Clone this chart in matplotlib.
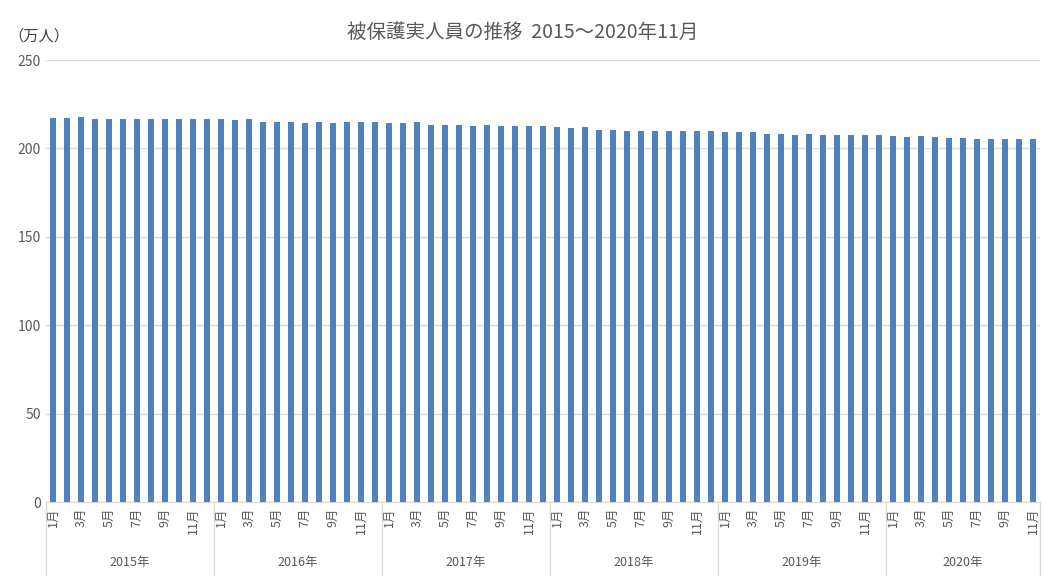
import numpy as np
import matplotlib.pyplot as plt

plt.rcParams['font.family'] = ['Noto Sans CJK JP', 'DejaVu Sans']

years = ['2015年', '2016年', '2017年', '2018年', '2019年', '2020年']
values = [217.0, 217.0, 217.5, 216.4, 216.4, 216.4, 216.4, 216.4, 216.4, 216.4, 216.4, 216.4,
          216.4, 215.8, 216.4, 214.7, 214.7, 214.7, 214.2, 214.7, 214.2, 214.7, 214.7, 214.7,
          214.2, 214.2, 214.7, 213.0, 213.0, 213.0, 212.5, 213.0, 212.5, 212.5, 212.5, 212.5,
          211.9, 211.3, 211.9, 210.2, 210.2, 209.6, 209.6, 209.6, 209.6, 209.6, 209.6, 209.6,
          209.1, 209.1, 209.1, 207.9, 207.9, 207.4, 207.9, 207.4, 207.4, 207.4, 207.4, 207.4,
          206.8, 206.2, 206.8, 206.2, 205.7, 205.7, 205.1, 205.1, 205.1, 205.1, 205.1]
months = [m for y in years for m in range(1, 13)][:len(values)]
month_labels = [f'{m}月' if m % 2 == 1 else '' for m in months]

fig = plt.figure(figsize=(10.46, 5.81), dpi=100)
ax = fig.add_axes([46/1046, 79/581, 994/1046, 442/581])
x = np.arange(len(values))
ax.bar(x, values, width=0.4, color='#4f81bd', zorder=3)
ax.set_xlim(-0.5, 70.5)
ax.set_ylim(0, 250)
ax.set_yticks(range(0, 251, 50))
ax.grid(axis='y', color='#d9d9d9', lw=1, zorder=0)
for s in ['top', 'right', 'left']:
    ax.spines[s].set_visible(False)
ax.spines['bottom'].set_color('#d9d9d9')
ax.tick_params(axis='y', length=0, labelsize=10, colors='#595959')
ax.set_xticks(x)
ax.set_xticklabels(month_labels, rotation=90, fontsize=9, color='#595959')
ax.tick_params(axis='x', length=0, pad=4)

# year group labels and separators
trans = ax.get_xaxis_transform()
for i, yname in enumerate(years):
    end = min(i * 12 + 12, len(values))
    ax.text((i * 12 + end - 1) / 2, -0.136, yname, transform=trans,
            ha='center', va='center', fontsize=9, color='#595959')
for b in range(0, 73, 12):
    xb = min(b, len(values)) - 0.5
    ax.plot([xb, xb], [0, -0.165], transform=trans,
            color='#d9d9d9', lw=1, clip_on=False)
fig.text(8/1046, 1 - 36/581, '（万人）', fontsize=11, color='#404040', va='center')
fig.suptitle('被保護実人員の推移  2015～2020年11月', y=1 - 22/581, fontsize=14, color='#595959')
fig.savefig('out.png')
